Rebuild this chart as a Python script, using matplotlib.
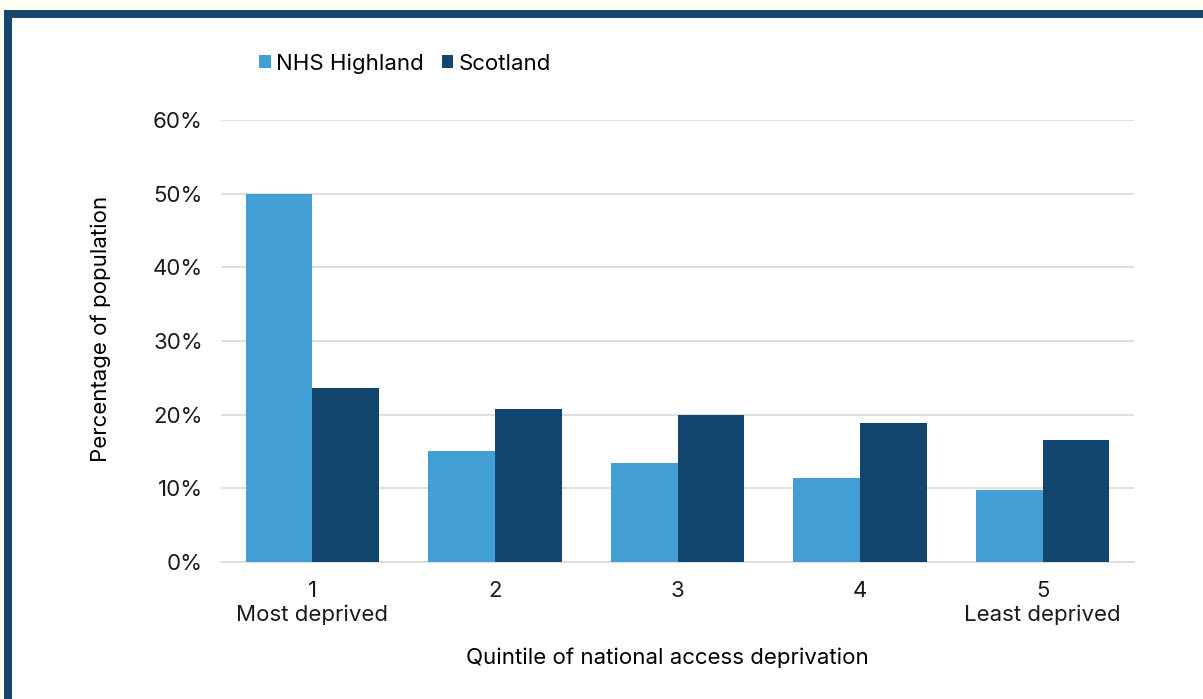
import matplotlib.pyplot as plt
import numpy as np
from matplotlib.patches import Rectangle

plt.rcParams['font.family'] = ['Inter', 'DejaVu Sans']

quintiles = ['1\nMost deprived', '2', '3', '4', '5\nLeast deprived']
nhs_highland = [50.0, 15.1, 13.4, 11.4, 9.8]
scotland = [23.6, 20.8, 20.0, 18.9, 16.6]

light_blue = '#429FD6'
dark_blue = '#13466E'
fs = 16

fig = plt.figure(figsize=(12.03, 6.99), dpi=100)
fig.patch.set_facecolor('white')

# frame: cream strip, then dark blue border on top and left
fig.patches.append(Rectangle((0, 1 - 10 / 699), 1, 10 / 699, transform=fig.transFigure,
                             facecolor='#FEFEF2', edgecolor='none', zorder=0))
fig.patches.append(Rectangle((0, 0), 4 / 1203, 1, transform=fig.transFigure,
                             facecolor='#FEFEF2', edgecolor='none', zorder=0))
fig.patches.append(Rectangle((4 / 1203, 1 - 18 / 699), 1, 8 / 699, transform=fig.transFigure,
                             facecolor='#17466D', edgecolor='none', zorder=1))
fig.patches.append(Rectangle((4 / 1203, 0), 8 / 1203, 1 - 10 / 699, transform=fig.transFigure,
                             facecolor='#17466D', edgecolor='none', zorder=1))

ax = fig.add_axes([221 / 1203, 1 - 562 / 699, (1134 - 221) / 1203, (562 - 120) / 699])

x = np.arange(len(quintiles))
w = 0.365
ax.bar(x - w / 2, nhs_highland, w, color=light_blue, label='NHS Highland', zorder=3)
ax.bar(x + w / 2, scotland, w, color=dark_blue, label='Scotland', zorder=3)

ax.set_xlim(-0.5, len(quintiles) - 0.5)
ax.set_ylim(0, 60)
ax.set_yticks(np.arange(0, 61, 10))
ax.set_yticklabels([f'{v}%' for v in range(0, 61, 10)])
ax.set_xticks(x)
ax.set_xticklabels(quintiles, linespacing=1.2)
ax.grid(axis='y', color='#D9D9D9', linewidth=1.2, zorder=0)
for s in ['top', 'right', 'left']:
    ax.spines[s].set_visible(False)
ax.spines['bottom'].set_color('#D9D9D9')
ax.spines['bottom'].set_linewidth(1.2)
ax.tick_params(axis='both', length=0, labelsize=fs, colors='#1a1a1a')
ax.tick_params(axis='y', pad=13)
ax.tick_params(axis='x', pad=14)

ax.set_ylabel('Percentage of population', fontsize=fs)
ax.yaxis.set_label_coords((111 - 221) / 913, (562 - 329) / 442)
ax.set_xlabel('Quintile of national access deprivation', fontsize=fs)
ax.xaxis.set_label_coords((667 - 221) / 913, (562 - 647) / 442)

ax.legend(loc='upper left', bbox_to_anchor=(239 / 1203, 1 - 33 / 699), bbox_transform=fig.transFigure,
          ncol=2, frameon=False, fontsize=fs, handlelength=0.52, handleheight=0.52,
          handletextpad=0.25, columnspacing=0.8)

fig.savefig('out.png', dpi=100)
